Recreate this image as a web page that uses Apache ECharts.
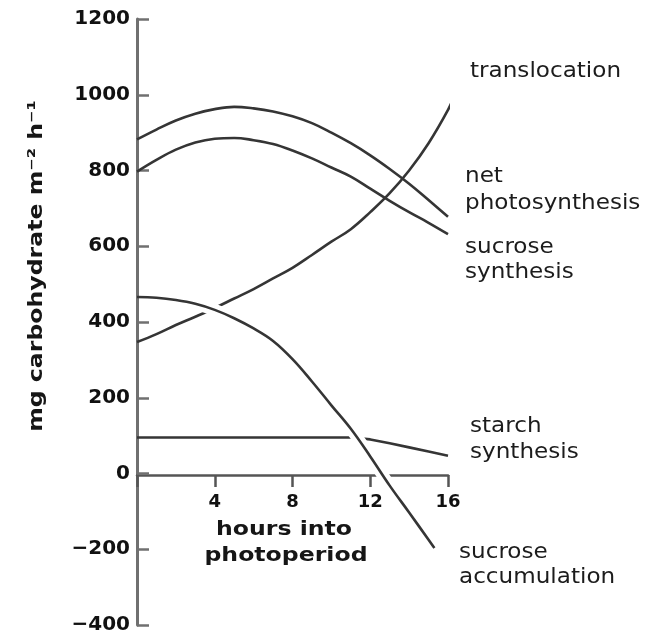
<!DOCTYPE html>
<html>
<head>
<meta charset="utf-8">
<script src="https://cdn.jsdelivr.net/npm/echarts@6/dist/echarts.min.js"></script>
<style>
  html, body { margin: 0; padding: 0; background: #ffffff; }
  #chart { width: 652px; height: 635px; }
</style>
</head>
<body>
<div id="chart"></div>
<script>
// Carbohydrate fluxes over the photoperiod (mg carbohydrate m^-2 h^-1)
const hours = [0, 1, 2, 3, 4, 5, 6, 7, 8, 9, 10, 11, 12, 13, 14, 15, 16];
const netPhotosynthesis = [882, 908, 932, 950, 962, 968, 964, 956, 943, 925, 900, 872, 840, 804, 765, 722, 678];
const sucroseSynthesis = [797, 828, 855, 874, 884, 886, 880, 870, 853, 832, 808, 784, 752, 720, 690, 662, 632];
const translocationHours = [0, 1, 2, 3, 4, 5, 6, 7, 8, 9, 10, 11, 12, 13, 14, 15, 16, 16.35];
const translocation = [347, 368, 392, 414, 437, 462, 487, 515, 543, 577, 612, 645, 690, 740, 800, 872, 960, 1000];
const accumulationHours = [0, 1, 2, 3, 4, 5, 6, 7, 8, 9, 10, 11, 12, 13, 14, 15, 15.3];
const sucroseAccumulation = [466, 464, 458, 448, 432, 410, 383, 350, 302, 243, 180, 118, 45, -32, -103, -175, -197];
const starchSynthesis = [95, 95, 95, 95, 95, 95, 95, 95, 95, 95, 95, 95, 90, 80, 69, 58, 47];
const yTicks = { min: -400, max: 1200, step: 200 };
const xTicks = { min: 0, max: 16, step: 4 };

const pairs = (xs, ys) => ys.map((v, i) => [xs[i], v]);

const INK = '#353535';
const LABEL_FONT = '21px "DejaVu Sans"';
const TITLE_FONT = 'bold 20px "DejaVu Sans"';

// plot area: y runs -400..1200, the hour axis sits on the zero line
const PLOT = { left: 137, top: 19, width: 311, height: 608 };
const zeroOffset = PLOT.height * (yTicks.max / (yTicks.max - yTicks.min));

function curveLabel(text, x, y) {
  return {
    type: 'text', x: x, y: y, scaleX: 1.1, silent: true,
    style: { text: text, font: LABEL_FONT, fill: '#1c1c1c',
             textAlign: 'left', textVerticalAlign: 'middle', align: 'left', verticalAlign: 'middle' }
  };
}
function titleText(text, x, y, rotation) {
  return {
    type: 'text', x: x, y: y, rotation: rotation || 0, scaleX: 1.18, silent: true,
    style: { text: text, font: TITLE_FONT, fill: '#161616',
             textAlign: 'center', textVerticalAlign: 'middle', align: 'center', verticalAlign: 'middle' }
  };
}

function line(name, data, opts) {
  return Object.assign({
    name: name, type: 'line', data: data, symbol: 'none', smooth: 0.4,
    clip: false, z: 2, silent: true, xAxisIndex: 0, yAxisIndex: 0,
    lineStyle: { color: INK, width: 2.6 }
  }, opts || {});
}

const chart = echarts.init(document.getElementById('chart'), null, { renderer: 'canvas' });
chart.setOption({
  backgroundColor: '#ffffff',
  animation: false,
  grid: [
    { left: PLOT.left, top: PLOT.top, width: PLOT.width, height: PLOT.height, containLabel: false },
    // companion grid whose bottom edge is the zero line, carrying the hour axis
    { left: PLOT.left, top: PLOT.top, width: PLOT.width, height: zeroOffset, containLabel: false }
  ],
  xAxis: [
    { gridIndex: 0, type: 'value', min: xTicks.min, max: xTicks.max, interval: xTicks.step, show: false },
    {
      gridIndex: 1, type: 'value', min: xTicks.min, max: xTicks.max, interval: xTicks.step,
      position: 'bottom',
      axisLine: { show: true, onZero: false, lineStyle: { color: '#555555', width: 2.5 } },
      axisTick: { show: true, inside: false, length: 12, lineStyle: { color: '#555555', width: 2.5 } },
      axisLabel: {
        margin: 18, color: '#111111', fontFamily: 'DejaVu Sans', fontWeight: 'bold', fontSize: 18,
        formatter: v => (v === 0 ? '' : String(v))
      },
      splitLine: { show: false }
    }
  ],
  yAxis: [
    {
      gridIndex: 0, type: 'value', min: yTicks.min, max: yTicks.max, interval: yTicks.step,
      axisLine: { show: true, onZero: false, lineStyle: { color: '#707070', width: 3 } },
      axisTick: { show: true, inside: true, length: 12, lineStyle: { color: '#707070', width: 2.5 } },
      axisLabel: {
        margin: 7, color: '#111111', fontFamily: 'DejaVu Sans', fontWeight: 'bold', fontSize: 20,
        formatter: v => String(v).replace('-', '\u2212')
      },
      splitLine: { show: false }
    },
    { gridIndex: 1, type: 'value', min: 0, max: yTicks.max, show: false }
  ],
  series: [
    line('net photosynthesis', pairs(hours, netPhotosynthesis)),
    line('sucrose synthesis', pairs(hours, sucroseSynthesis)),
    line('translocation', pairs(translocationHours, translocation)),
    line('starch synthesis', pairs(hours, starchSynthesis), { smooth: false }),
    // white casing so the accumulation curve breaks the lines it crosses
    line('accumulation casing', pairs(accumulationHours, sucroseAccumulation).slice(2),
         { z: 3, lineStyle: { color: '#ffffff', width: 12 } }),
    line('sucrose accumulation', pairs(accumulationHours, sucroseAccumulation), { z: 4 })
  ],
  graphic: [
    curveLabel('translocation', 470, 72),
    curveLabel('net', 465, 177),
    curveLabel('photosynthesis', 465, 204),
    curveLabel('sucrose', 465, 248),
    curveLabel('synthesis', 465, 273),
    curveLabel('starch', 470, 427),
    curveLabel('synthesis', 470, 453),
    curveLabel('sucrose', 459, 553),
    curveLabel('accumulation', 459, 578),
    titleText('hours into', 284, 530),
    titleText('photoperiod', 286, 556),
    titleText('mg carbohydrate m\u207B\u00B2 h\u207B\u00B9', 37, 266, Math.PI / 2)
  ]
});
</script>
</body>
</html>
